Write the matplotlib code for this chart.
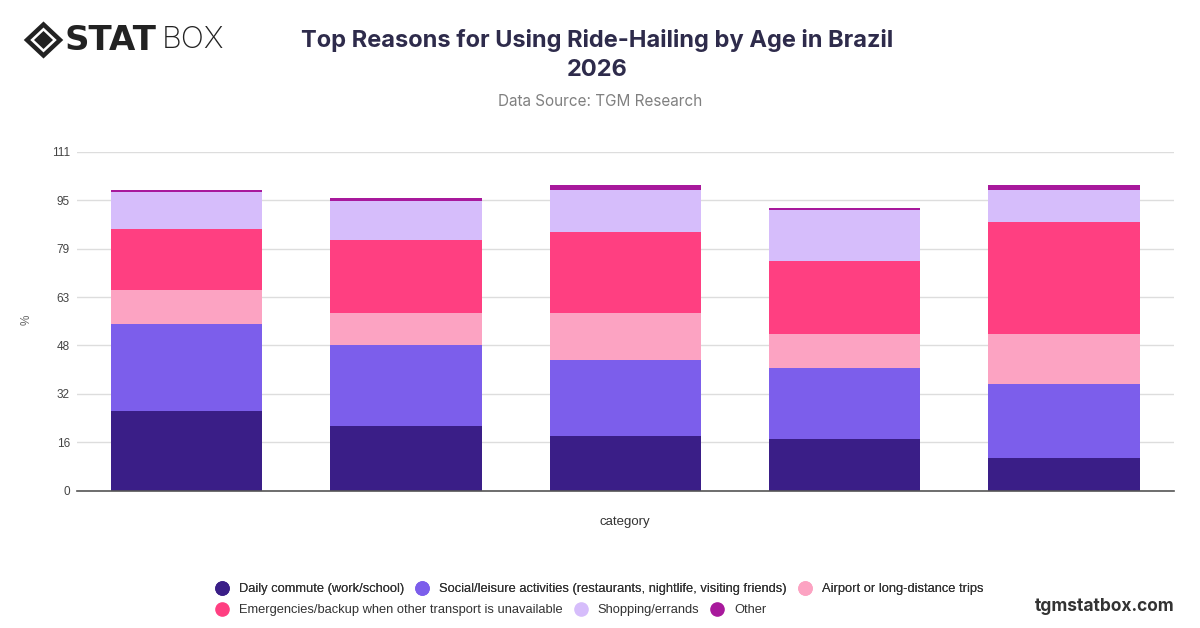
import matplotlib
matplotlib.use("Agg")
import matplotlib.pyplot as plt
from matplotlib.lines import Line2D
from matplotlib.patches import Polygon
import numpy as np

categories = ["18-24", "25-34", "35-44", "45-54", "55+"]
series_names = [
    "Daily commute (work/school)",
    "Social/leisure activities (restaurants, nightlife, visiting friends)",
    "Airport or long-distance trips",
    "Emergencies/backup when other transport is unavailable",
    "Shopping/errands",
    "Other",
]
daily = [26.0, 21.2, 18.0, 16.9, 10.6]
social = [28.6, 26.4, 24.8, 23.4, 24.3]
airport = [11.0, 10.7, 15.5, 11.1, 16.5]
emergency = [20.2, 23.8, 26.4, 23.8, 36.5]
shopping = [12.0, 12.8, 13.8, 16.7, 10.6]
other = [0.7, 0.9, 1.6, 0.7, 1.6]
colors = ["#3a1e87", "#7c5eeb", "#fca3c2", "#ff3f81", "#d6bdfb", "#a8199c"]
ytick_count = 8
ymax = 111

plt.rcParams['font.family'] = ['Liberation Sans', 'DejaVu Sans']

fig = plt.figure(figsize=(12, 6.28), dpi=100)
ax = fig.add_axes([0.064, 0.2186, 0.914, 0.5398])

series = [daily, social, airport, emergency, shopping, other]
x = np.arange(len(categories))
bottom = np.zeros(len(categories))
handles = []
for name, vals, c in zip(series_names, series, colors):
    ax.bar(x, vals, width=0.69, bottom=bottom, color=c, edgecolor='none', zorder=3)
    bottom += np.array(vals)
    handles.append(Line2D([], [], marker='o', linestyle='none', markersize=9.5,
                          markerfacecolor=c, markeredgecolor=c, label=name))

ax.set_xlim(-0.5, len(categories) - 0.5)
ax.set_ylim(0, ymax)
yt = np.linspace(0, ymax, ytick_count)
ax.set_yticks(yt)
ax.set_yticklabels([f"{round(v)}" for v in yt])
ax.set_xticks(x)
ax.set_xticklabels([])
ax.tick_params(axis='both', length=0, labelsize=8.5, labelcolor='#444444', pad=8)
ax.tick_params(axis='y', pad=5)
ax.grid(axis='y', color='#dddddd', linewidth=1, zorder=0)
for s in ['top', 'right', 'left']:
    ax.spines[s].set_visible(False)
ax.spines['bottom'].set_color('#555555')
ax.spines['bottom'].set_linewidth(1.2)
ax.spines['bottom'].set_zorder(4)
ax.set_xlabel("category", fontsize=9.5, color='#333333', labelpad=10)
fig.text(0.0225, 0.49, "%", rotation=90, fontsize=8.5, color='#666666', ha='center', va='center')

# Title
fig.text(0.4975, 0.936, "Top Reasons for Using Ride-Hailing by Age in Brazil", fontsize=17,
         fontweight='bold', color='#2e2b4b', ha='center', va='center', family=['Inter', 'DejaVu Sans'])
fig.text(0.4975, 0.888, "2026", fontsize=17, fontweight='bold', color='#2e2b4b',
         ha='center', va='center', family=['Inter', 'DejaVu Sans'])
fig.text(0.5, 0.838, "Data Source: TGM Research", fontsize=11, color='#808080',
         ha='center', va='center', family=['Inter', 'DejaVu Sans'])

# Legend: two rows
common = dict(ncol=3, frameon=False, fontsize=9.3, handletextpad=0.8, columnspacing=0.9,
              borderaxespad=0, labelcolor='#333333', handlelength=1.0)
leg1 = fig.legend(handles=handles[:3], loc='center left', bbox_to_anchor=(0.1755, 0.062), **common)
leg2 = fig.legend(handles=handles[3:], loc='center left', bbox_to_anchor=(0.1755, 0.028), **common)
fig.add_artist(leg1)

fig.text(0.979, 0.034, "tgmstatbox.com", fontsize=12.5, fontweight='bold', color='#333333',
         ha='right', va='center', family=['Inter', 'DejaVu Sans'])

# Logo
W, H = 1200, 628
def fp(px, py):
    return (px / W, 1 - py / H)
outer = [fp(27, 40), fp(43.5, 24.5), fp(60, 40), fp(43.5, 55.5)]
inner = [fp(34, 40), fp(43.5, 31), fp(53, 40), fp(43.5, 49)]
fig.patches.append(Polygon(outer, closed=True, transform=fig.transFigure, facecolor='none',
                           edgecolor='#222222', linewidth=3.2))
fig.patches.append(Polygon(inner, closed=True, transform=fig.transFigure, facecolor='#222222',
                           edgecolor='none'))
fig.text(0.054, 0.936, "STAT", fontsize=24.5, fontweight='bold', color='#222222',
         ha='left', va='center', family=['DejaVu Sans'])
fig.text(0.1345, 0.936, "BOX", fontsize=22, fontweight='light', color='#222222',
         ha='left', va='center', family=['Inter', 'DejaVu Sans'])

fig.savefig("out.png", dpi=100, facecolor='white')
